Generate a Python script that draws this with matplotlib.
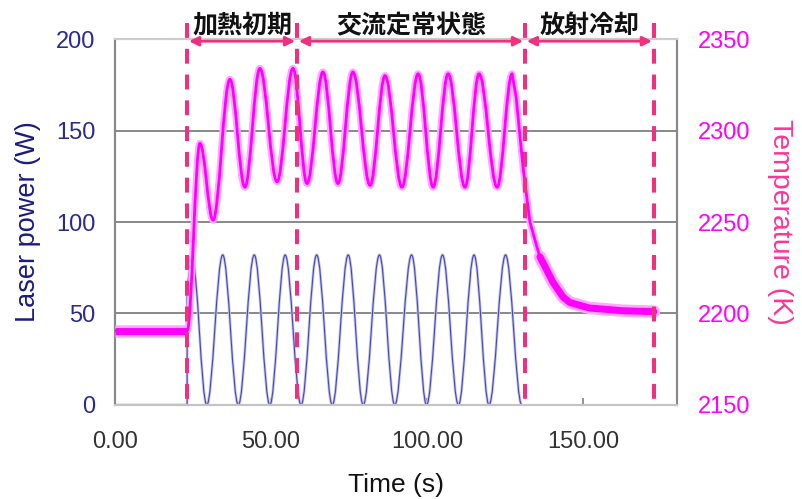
import matplotlib
matplotlib.use("Agg")
import matplotlib.pyplot as plt
from matplotlib.path import Path
from matplotlib.patches import PathPatch

# ---------------- data ----------------
# laser power: extrema of the sinusoidal drive (s, W)
laser_pre_t = [0.0, 23.1]
laser_pre_v = [0.0, 0.0]
laser_ext_t = [23.1, 24.6, 29.4, 34.5, 39.5, 44.6, 49.6, 54.5, 59.6, 64.6, 69.6,
               74.7, 79.5, 84.7, 89.6, 95.0, 99.8, 104.9, 110.0, 115.0, 119.8,
               125.1, 130.3]
laser_ext_v = [66.0, 82.0, 0.0, 82.0, 0.0, 82.0, 0.0, 82.0, 0.0, 82.0, 0.0,
               82.0, 0.0, 82.0, 0.0, 82.0, 0.0, 82.0, 0.0, 82.0, 0.0,
               82.0, 0.0]

# temperature: flat start, oscillation extrema, cooling curve (s, K)
temp_pre_t = [0.0, 23.1]
temp_pre_v = [2190.5, 2190.5]
temp_ext_t = [23.1, 27.2, 31.4, 36.8, 41.6, 46.4, 51.9, 57.0, 61.5, 66.6, 71.4,
              76.2, 81.7, 86.5, 91.9, 97.1, 101.9, 106.7, 112.1, 116.6, 122.4,
              127.2]
temp_ext_v = [2190.5, 2293, 2251, 2328, 2269, 2334, 2272, 2334, 2271, 2332, 2271,
              2332, 2270, 2330, 2269, 2331, 2269, 2331, 2269, 2331, 2269,
              2331]
temp_fall_t = [128.5, 129.7, 130.7, 132.0, 132.9, 135.2, 136.1]
temp_fall_v = [2318, 2297, 2280, 2262, 2250, 2236, 2231]
temp_cool_t = [136.1, 140.3, 143.5, 145.7, 152.0, 162.7, 172.6]
temp_cool_v = [2231, 2217, 2209, 2206, 2203, 2201.5, 2201]

phase_bounds = [23.1, 58.3, 131.3, 172.6]
phase_labels = ["加熱初期", "交流定常状態", "放射冷却"]

x_ticks = [0, 50, 100, 150]
power_ticks = [0, 50, 100, 150, 200]
temp_ticks = [2150, 2200, 2250, 2300, 2350]

# ---------------- helpers ----------------
K = 0.3634  # control-point fraction giving a half-cosine-like Bezier


def build_path(pre_t, pre_v, ext_t, ext_v, post_t=None, post_v=None):
    verts = [(pre_t[0], pre_v[0])]
    codes = [Path.MOVETO]
    for t, v in zip(pre_t[1:], pre_v[1:]):
        verts.append((t, v)); codes.append(Path.LINETO)
    if (ext_t[0], ext_v[0]) != verts[-1]:
        verts.append((ext_t[0], ext_v[0])); codes.append(Path.LINETO)
    for (t0, v0), (t1, v1) in zip(zip(ext_t[:-1], ext_v[:-1]), zip(ext_t[1:], ext_v[1:])):
        dt = t1 - t0
        verts += [(t0 + K * dt, v0), (t1 - K * dt, v1), (t1, v1)]
        codes += [Path.CURVE4] * 3
    if post_t is not None:
        for t, v in zip(post_t, post_v):
            verts.append((t, v)); codes.append(Path.LINETO)
    return Path(verts, codes)


PINK = "#f0307f"
FONT = ["Liberation Sans", "DejaVu Sans"]
plt.rcParams["font.family"] = FONT

fig = plt.figure(figsize=(8.02, 4.99), dpi=100)
ax = fig.add_axes([0.1434, 0.1884, 0.7007, 0.7334])
ax.set_xlim(0, 180)
ax.set_ylim(0, 200)
ax2 = ax.twinx()
ax2.set_ylim(2150, 2350)

# grid
for y in power_ticks[1:-1]:
    ax.axhline(y, color="#888888", lw=1.4, zorder=1)

# laser power
lp = build_path(laser_pre_t, laser_pre_v, laser_ext_t, laser_ext_v)
ax.add_patch(PathPatch(lp, fill=False, ec="#c4c4ee", lw=2.0, zorder=3))
ax.add_patch(PathPatch(lp, fill=False, ec="#4848b0", lw=0.8, zorder=4))

# temperature (oscillating part)
tp = build_path(temp_pre_t, temp_pre_v, temp_ext_t, temp_ext_v, temp_fall_t, temp_fall_v)
ax2.add_patch(PathPatch(tp, fill=False, ec="#ffa8ff", lw=5.0, zorder=3,
                        joinstyle="round", capstyle="round"))
ax2.add_patch(PathPatch(tp, fill=False, ec="#ff00ff", lw=2.0, zorder=4,
                        joinstyle="round", capstyle="round"))
# noisy flat / cooling parts drawn as a wider band
for xs, ys, cap in ((temp_pre_t, temp_pre_v, "butt"), (temp_cool_t, temp_cool_v, "round")):
    ax2.plot(xs, ys, color="#ffa8ff", lw=9.0, solid_joinstyle="round",
             solid_capstyle=cap, zorder=3)
    ax2.plot(xs, ys, color="#ff00ff", lw=5.0, solid_joinstyle="round",
             solid_capstyle=cap, zorder=4)

# phase boundaries
xtr = ax2.get_xaxis_transform()
for b in phase_bounds:
    ax2.plot([b, b], [1.044, 0.0], transform=xtr, clip_on=False, color=PINK,
             lw=2.9, linestyle=(0, (3.7, 2.7)), zorder=10, solid_capstyle="butt",
             dash_capstyle="butt")

for i, lab in enumerate(phase_labels):
    b0, b1 = phase_bounds[i], phase_bounds[i + 1]
    ax2.annotate("", xy=(b1 - 0.6, 0.994), xytext=(b0 + 0.6, 0.994),
                 xycoords=xtr, textcoords=xtr, annotation_clip=False,
                 arrowprops=dict(arrowstyle="<|-|>", color=PINK, lw=2.0,
                                 mutation_scale=14, shrinkA=0, shrinkB=0),
                 zorder=11)
    ax2.text((b0 + b1) / 2, 1.036, lab, transform=xtr, ha="center", va="center",
             fontsize=18, fontweight="bold", color="#111111",
             family=["Noto Sans CJK JP", "DejaVu Sans"], zorder=12)

# axes styling
ax.set_xticks(x_ticks)
ax.set_xticklabels([f"{v:.2f}" for v in x_ticks])
ax.set_yticks(power_ticks)
ax2.set_yticks(temp_ticks)
ax.tick_params(axis="x", direction="in", length=5, width=1.2, color="#808080",
               pad=19, labelsize=17, labelcolor="#333333")
ax.tick_params(axis="y", length=0, pad=14, labelsize=17, labelcolor="#2a2a90")
ax2.tick_params(axis="y", length=0, pad=15, labelsize=17, labelcolor="#ff00ff")

for a in (ax, ax2):
    a.spines["left"].set_color("#888888")
    a.spines["right"].set_color("#888888")
    a.spines["top"].set_color("#cccccc")
    a.spines["bottom"].set_color("#c4c4c4")
    for s in a.spines.values():
        s.set_linewidth(1.5)

ax.set_xlabel("Time (s)", fontsize=19, color="#111111", labelpad=14)
ax.set_ylabel("Laser power (W)", fontsize=19.5, color="#1a1a80", labelpad=11)
ax2.set_ylabel("Temperature (K)", fontsize=20.5, color="#ff3399", rotation=270,
               labelpad=31)

fig.savefig("out.png", dpi=100)
